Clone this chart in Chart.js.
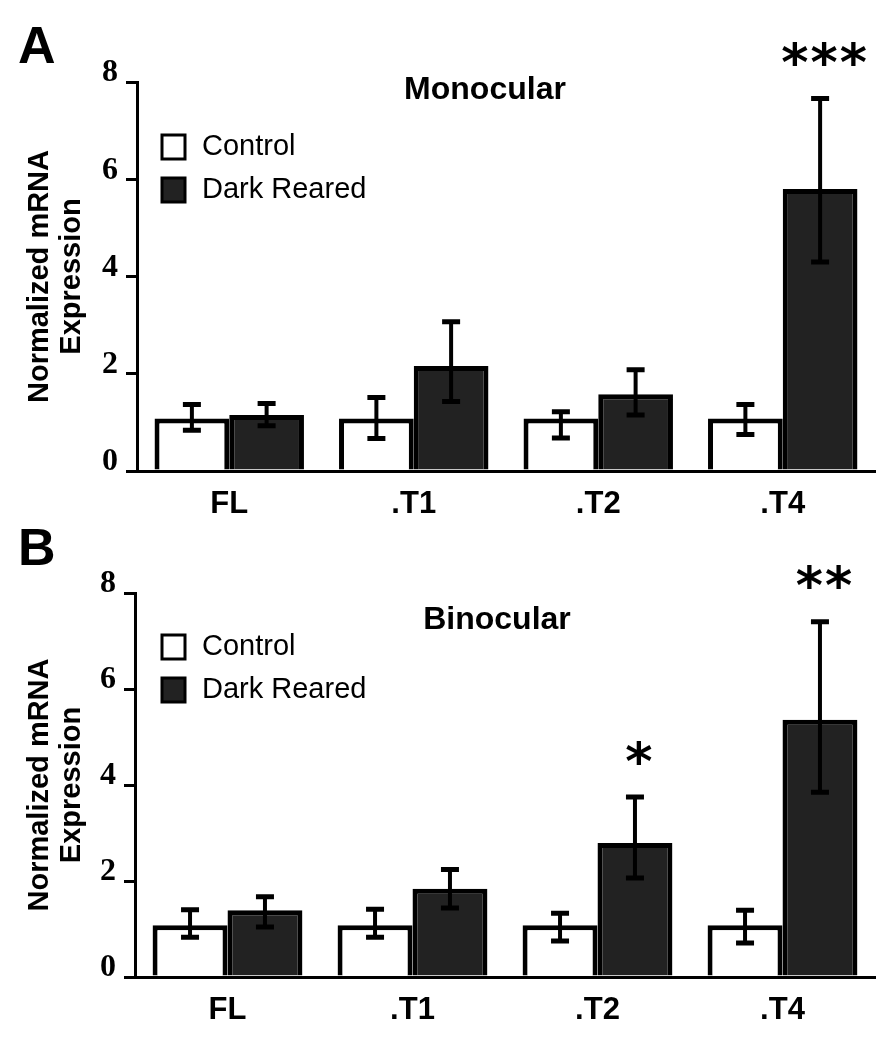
<!DOCTYPE html>
<html>
<head>
<meta charset="utf-8">
<title>Normalized mRNA Expression</title>
<script src="https://cdn.jsdelivr.net/npm/chart.js@4.4.1/dist/chart.umd.min.js"></script>
<style>
  body { margin: 0; background: #fff; }
  canvas { display: block; }
</style>
</head>
<body>
<canvas id="monoChart" width="889" height="520"></canvas>
<canvas id="binoChart" width="889" height="530"></canvas>
<script>
const categories = ['FL', '.T1', '.T2', '.T4'];
const seriesNames = ['Control', 'Dark Reared'];

// A - Monocular
const monoControl   = [1.08, 1.08, 1.08, 1.08];
const monoControlHi = [1.37, 1.51, 1.22, 1.37];
const monoControlLo = [0.84, 0.67, 0.68, 0.75];
const monoDark      = [1.15, 2.16, 1.58, 5.80];
const monoDarkHi    = [1.39, 3.07, 2.08, 7.66];
const monoDarkLo    = [0.93, 1.43, 1.15, 4.30];
const monoStars     = ['', '', '', '***'];

// B - Binocular
const binoControl   = [1.08, 1.08, 1.08, 1.08];
const binoControlHi = [1.40, 1.41, 1.33, 1.39];
const binoControlLo = [0.83, 0.83, 0.75, 0.71];
const binoDark      = [1.39, 1.84, 2.79, 5.36];
const binoDarkHi    = [1.67, 2.24, 3.75, 7.40];
const binoDarkLo    = [1.04, 1.44, 2.06, 3.85];
const binoStars     = ['', '', '*', '**'];

const SANS = '"Liberation Sans", Arial, sans-serif';

// error bars with caps, drawn over the bars
const errorBars = {
  id: 'errorBars',
  afterDatasetsDraw(chart) {
    const ctx = chart.ctx;
    const y = chart.scales.y;
    chart.data.datasets.forEach((ds, i) => {
      chart.getDatasetMeta(i).data.forEach((bar, j) => {
        const top = y.getPixelForValue(ds.errHi[j]);
        const bot = y.getPixelForValue(ds.errLo[j]);
        ctx.save();
        ctx.strokeStyle = '#000';
        ctx.lineWidth = 4;
        ctx.beginPath();
        ctx.moveTo(bar.x, top);
        ctx.lineTo(bar.x, bot);
        ctx.stroke();
        ctx.lineWidth = 5;
        ctx.beginPath();
        ctx.moveTo(bar.x - 9, top); ctx.lineTo(bar.x + 9, top);
        ctx.moveTo(bar.x - 9, bot); ctx.lineTo(bar.x + 9, bot);
        ctx.stroke();
        ctx.restore();
      });
    });
  }
};

// panel letter, title, legend and significance stars
const panelDecor = {
  id: 'panelDecor',
  afterDraw(chart, args, opts) {
    const ctx = chart.ctx;
    ctx.save();
    ctx.fillStyle = '#000';
    ctx.textBaseline = 'alphabetic';

    ctx.font = 'bold 52px ' + SANS;
    ctx.textAlign = 'left';
    ctx.fillText(opts.letter, 18, opts.letterBase);

    ctx.font = 'bold 32px ' + SANS;
    ctx.textAlign = 'center';
    ctx.textBaseline = 'middle';
    ctx.fillText(opts.title, opts.titleX, opts.titleY);

    // legend
    ctx.textAlign = 'left';
    ctx.font = '29px ' + SANS;
    chart.data.datasets.forEach((ds, i) => {
      const top = opts.legendTop + i * 43;
      ctx.fillStyle = ds.backgroundColor;
      ctx.fillRect(162, top, 23, 24);
      ctx.lineWidth = 3;
      ctx.strokeStyle = '#000';
      ctx.strokeRect(162, top, 23, 24);
      ctx.fillStyle = '#000';
      ctx.fillText(ds.label, 202, top + 12);
    });

    // stars above the dark reared error bars
    const dark = chart.data.datasets[1];
    const meta = chart.getDatasetMeta(1);
    ctx.font = 'bold 52px "DejaVu Sans", sans-serif';
    ctx.textAlign = 'center';
    ctx.textBaseline = 'middle';
    if ('letterSpacing' in ctx) ctx.letterSpacing = '2px';
    opts.stars.forEach((s, j) => {
      if (!s) return;
      const yTop = chart.scales.y.getPixelForValue(dark.errHi[j]);
      ctx.fillText(s, meta.data[j].x + 5, yTop - 32);
    });
    ctx.restore();
  }
};

function makePanel(id, ctrl, ctrlHi, ctrlLo, dark, darkHi, darkLo, decor, geom) {
  const ctx = document.getElementById(id).getContext('2d');
  return new Chart(ctx, {
    type: 'bar',
    data: {
      labels: categories,
      datasets: [
        {
          label: seriesNames[0],
          data: ctrl,
          errHi: ctrlHi,
          errLo: ctrlLo,
          backgroundColor: '#ffffff',
          borderColor: '#000000',
          borderWidth: 5,
        },
        {
          label: seriesNames[1],
          data: dark,
          errHi: darkHi,
          errLo: darkLo,
          backgroundColor: '#222222',
          borderColor: '#000000',
          borderWidth: 5,
        },
      ],
    },
    options: {
      responsive: false,
      animation: false,
      devicePixelRatio: 1,
      categoryPercentage: 0.81,
      barPercentage: 1.0,
      layout: { padding: { top: geom.top, right: 14, left: 0, bottom: 0 } },
      scales: {
        x: {
          grid: { display: false, drawTicks: false },
          border: { display: true, color: '#000', width: 3 },
          ticks: {
            color: '#000',
            padding: 15,
            font: { family: SANS, weight: 'bold', size: 31 },
          },
          afterFit: (scale) => { scale.height = geom.xHeight; },
        },
        y: {
          min: 0,
          max: 8,
          ticks: {
            stepSize: 2,
            color: '#000',
            padding: 8,
            labelOffset: -9,
            font: { family: '"Liberation Serif", "Times New Roman", serif', weight: 'bold', size: 32 },
          },
          grid: { drawOnChartArea: false, color: '#000', lineWidth: 3, tickLength: 11 },
          border: { display: true, color: '#000', width: 3 },
          title: {
            display: true,
            text: ['Normalized mRNA', 'Expression'],
            color: '#000',
            font: { family: SANS, weight: 'bold', size: 29, lineHeight: 1.1 },
            padding: { top: 24, bottom: 0 },
          },
          afterFit: (scale) => { scale.width = geom.yWidth; },
        },
      },
      plugins: {
        legend: { display: false },
        tooltip: { enabled: false },
        panelDecor: decor,
      },
    },
    plugins: [errorBars, panelDecor],
  });
}

document.addEventListener('DOMContentLoaded', () => {
  makePanel('monoChart', monoControl, monoControlHi, monoControlLo,
    monoDark, monoDarkHi, monoDarkLo,
    { letter: 'A', letterBase: 63, title: 'Monocular', titleX: 485, titleY: 90, legendTop: 135, stars: monoStars },
    { top: 82, xHeight: 49, yWidth: 137 });
  makePanel('binoChart', binoControl, binoControlHi, binoControlLo,
    binoDark, binoDarkHi, binoDarkLo,
    { letter: 'B', letterBase: 45, title: 'Binocular', titleX: 497, titleY: 100, legendTop: 115, stars: binoStars },
    { top: 73, xHeight: 73, yWidth: 135 });
});
</script>
</body>
</html>
